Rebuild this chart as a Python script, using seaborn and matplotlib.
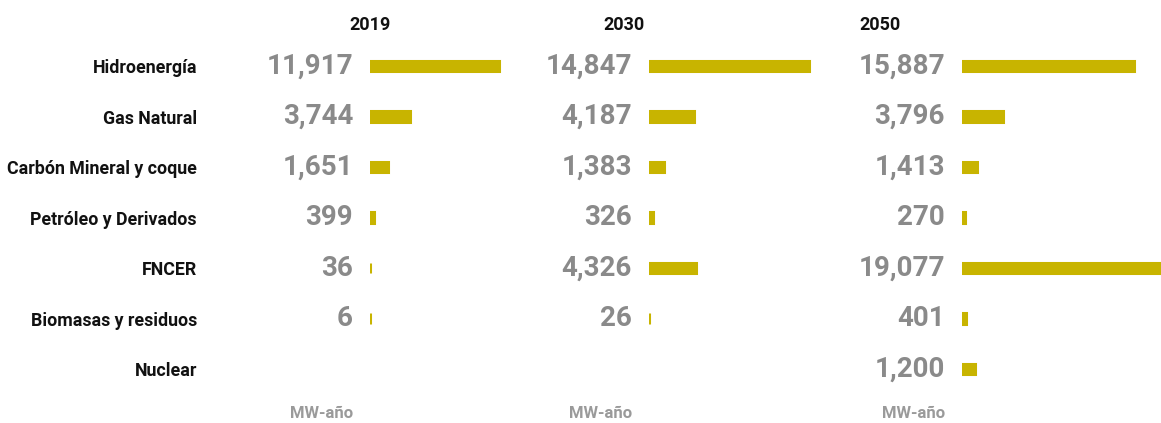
import numpy as np
import pandas as pd
import seaborn as sns
import matplotlib
matplotlib.use("Agg")
import matplotlib.pyplot as plt

categories = ["Hidroenergía", "Gas Natural", "Carbón Mineral y coque",
              "Petróleo y Derivados", "FNCER", "Biomasas y residuos", "Nuclear"]
years = ["2019", "2030", "2050"]
v2019 = [11917, 3744, 1651, 399, 36, 6, np.nan]
v2030 = [14847, 4187, 1383, 326, 4326, 26, np.nan]
v2050 = [15887, 3796, 1413, 270, 19077, 401, 1200]
unit = "MW-año"

sns.set_theme(style="white")
plt.rcParams["font.family"] = ["Roboto", "DejaVu Sans"]

BAR = "#c8b400"
GRAY = "#8a8a8a"
W, H = 1161, 423
fig = plt.figure(figsize=(W / 100, H / 100), dpi=100)

scale = 0.0108  # px per unit
bar_starts = [370, 649, 962]
title_x = [370, 624, 880]
axw = 200
top, pitch = 40.75, 50.5
height = pitch * 7

for k, (vals, x0) in enumerate(zip([v2019, v2030, v2050], bar_starts)):
    ax = fig.add_axes([x0 / W, 1 - (top + height) / H, axw / W, height / H])
    df = pd.DataFrame({"cat": categories, "val": vals})
    sns.barplot(data=df, x="val", y="cat", order=categories, orient="h", ax=ax,
                color=BAR, width=0.2, edgecolor=BAR, linewidth=2.2,
                saturation=1, errorbar=None)
    ax.set_xlim(0, axw / scale)
    ax.set_ylim(6.5, -0.5)
    ax.set_xlabel("")
    ax.set_ylabel("")
    ax.set_xticks([])
    for s in ax.spines.values():
        s.set_visible(False)
    for i, v in enumerate(vals):
        if not np.isnan(v):
            ax.annotate(f"{v:,.0f}", xy=(0, i), xytext=(-17, 0),
                        textcoords="offset pixels", ha="right", va="center",
                        fontsize=20, fontweight="bold", color=GRAY)
    ax.annotate(unit, xy=(0, 1), xycoords=("data", "axes fraction"),
                xytext=(-17, -(413 - top)), textcoords="offset pixels",
                ha="right", va="center", fontsize=12, fontweight="bold", color="#9a9a9a")
    if k == 0:
        ax.tick_params(axis="y", length=0, pad=(x0 - 197) * 0.72)
        for lab in ax.get_yticklabels():
            lab.set_fontweight("bold")
            lab.set_fontsize(12.8)
            lab.set_color("#111111")
    else:
        ax.set_yticks([])
    fig.text(title_x[k] / W, 1 - 25 / H, years[k], ha="center", va="center",
             fontsize=13, fontweight="bold", color="#111111")

fig.savefig("out.png", dpi=100)
